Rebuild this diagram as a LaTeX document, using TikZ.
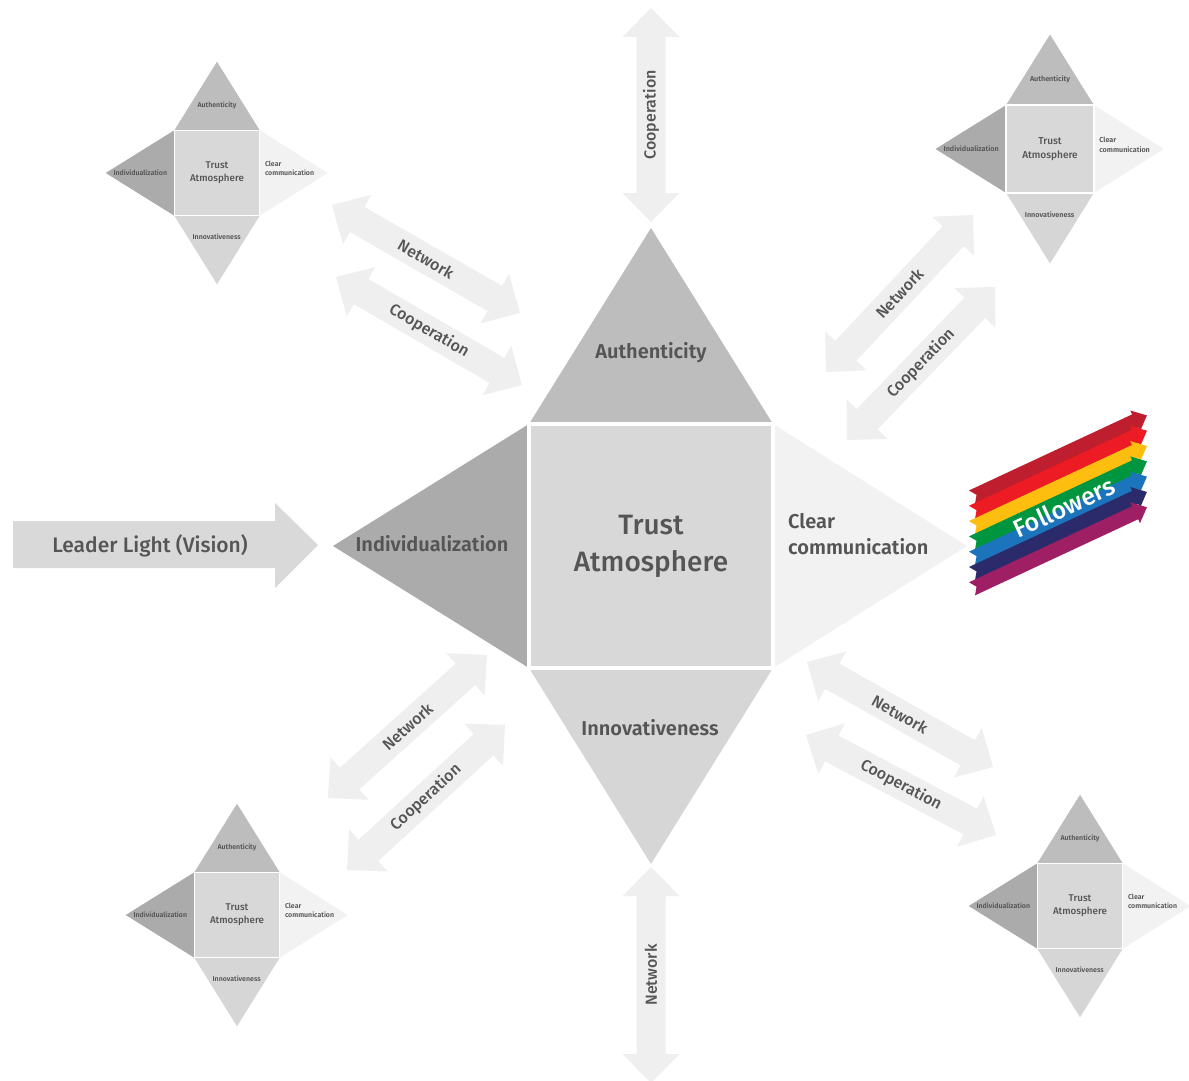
\documentclass[tikz,border=0pt]{standalone}
\usepackage{fontspec}
\setmainfont{Fira Sans}[BoldFont={Fira Sans SemiBold}]
\newfontfamily\medfont{Fira Sans Medium}
\usetikzlibrary{calc}
\definecolor{txt}{HTML}{555555}
\definecolor{triTop}{HTML}{BDBDBD}
\definecolor{triLeft}{HTML}{ABABAB}
\definecolor{sqc}{HTML}{D8D8D8}
\definecolor{triRight}{HTML}{F2F2F2}
\definecolor{triBot}{HTML}{D6D6D6}
\definecolor{arrc}{HTML}{EFEFEF}
\definecolor{leadc}{HTML}{D9D9D9}
\definecolor{fr1}{HTML}{BE1E2D}
\definecolor{fr2}{HTML}{ED1C24}
\definecolor{fr3}{HTML}{FDBE10}
\definecolor{fr4}{HTML}{009640}
\definecolor{fr5}{HTML}{1C75BC}
\definecolor{fr6}{HTML}{2B2A6B}
\definecolor{fr7}{HTML}{9E1F63}
\tikzset{
  lbl/.style={text=txt, font=\bfseries\fontsize{20}{26}\selectfont, inner sep=0pt},
  bigl/.style={text=txt, font=\medfont\fontsize{28}{37}\selectfont, align=center, inner sep=0pt},
  arrlbl/.style={text=txt, font=\medfont\fontsize{16}{18}\selectfont, inner sep=0pt},
  arrfill/.style={fill=arrc},
}
\newcommand\trustdiamond[5]{%
\begin{scope}[shift={(#2,#3)}, scale=#4, transform shape]
  \fill[triTop] (-122,-122) -- (122,-122) -- (0,-318) -- cycle;
  \fill[triBot] (-122,122) -- (122,122) -- (0,318) -- cycle;
  \fill[triLeft] (-122,-122) -- (-122,122) -- (-318,0) -- cycle;
  \fill[triRight] (122,-122) -- (122,122) -- (316,0) -- cycle;
  \filldraw[fill=sqc, draw=white, line width=#5] (-122,-122) rectangle (122,122);
  \node[bigl] (#1-trust) at (0,0) {Trust\\Atmosphere};
  \node[lbl] (#1-auth) at (0,-193) {Authenticity};
  \node[lbl] (#1-indiv) at (-219,-2) {Individualization};
  \node[lbl, anchor=west, align=left] (#1-clear) at (137,-12) {Clear\\communication};
  \node[lbl] (#1-innov) at (-1,182) {Innovativeness};
\end{scope}}
\newcommand\dblarrow[4]{%
  \coordinate (#1-a) at (#2);
  \coordinate (#1-b) at (#3);
  \coordinate (#1-p) at ($(#1-a)!29pt!(#1-b)$);
  \coordinate (#1-q) at ($(#1-b)!29pt!(#1-a)$);
  \fill[arrfill] (#1-a) -- ($(#1-p)!28.5pt!90:(#1-b)$) -- ($(#1-p)!14.5pt!90:(#1-b)$)
    -- ($(#1-q)!14.5pt!-90:(#1-a)$) -- ($(#1-q)!28.5pt!-90:(#1-a)$) -- (#1-b)
    -- ($(#1-q)!28.5pt!90:(#1-a)$) -- ($(#1-q)!14.5pt!90:(#1-a)$)
    -- ($(#1-p)!14.5pt!-90:(#1-b)$) -- ($(#1-p)!28.5pt!-90:(#1-b)$) -- cycle;
  \path (#1-a) -- node[arrlbl, sloped] (#1) {#4} (#1-b);
}
\begin{document}
\begin{tikzpicture}[x=1pt,y=-1pt]
\useasboundingbox (0,0) rectangle (1189,1081);
\fill[white] (0,0) rectangle (1189,1081);

% double arrows
\dblarrow{vtop}{651,222}{651,8}{Cooperation}
\dblarrow{vbot}{651,1083}{651,867}{Network}
\dblarrow{tlnet}{332,205}{520,313}{Network}
\dblarrow{tlcoop}{336,277}{522,385}{Cooperation}
\dblarrow{trnet}{826,372}{973,215}{Network}
\dblarrow{trcoop}{847,440}{995,287}{Cooperation}
\dblarrow{blnet}{328,798}{487,655}{Network}
\dblarrow{blcoop}{347,870}{505,725}{Cooperation}
\dblarrow{brnet}{807,662}{993,767}{Network}
\dblarrow{brcoop}{806,735}{996,835}{Cooperation}

% leader arrow
\fill[leadc] (13,521) -- (275,521) -- (275,503) -- (318,545) -- (275,588) -- (275,568) -- (13,568) -- cycle;
\node[lbl, font=\medfont\fontsize{21}{24}\selectfont] (leader) at (150,546) {Leader Light (Vision)};

% diamonds
\trustdiamond{main}{651}{546}{1}{3.5pt}
\trustdiamond{tl}{217}{173}{0.35}{1.4pt}
\trustdiamond{tr}{1050}{149}{0.36}{1.4pt}
\trustdiamond{bl}{237}{915}{0.35}{1.4pt}
\trustdiamond{br}{1080}{906}{0.35}{1.4pt}

% followers
\foreach \c [count=\k from 0] in {fr1,fr2,fr3,fr4,fr5,fr6,fr7} {
  \begin{scope}[shift={(972,{497+15.3*\k})}, rotate=25]
    \fill[\c] (0,-7.2) -- (180,-7.2) -- (180,-11.5) -- (193,0) -- (180,11.5) -- (180,7.2) -- (0,7.2) -- (5,0) -- cycle;
  \end{scope}
}
\node[rotate=25, text=white, font=\medfont\fontsize{25}{28}\selectfont, inner sep=0pt] (followers) at (1064,507) {Followers};
\end{tikzpicture}
\end{document}
